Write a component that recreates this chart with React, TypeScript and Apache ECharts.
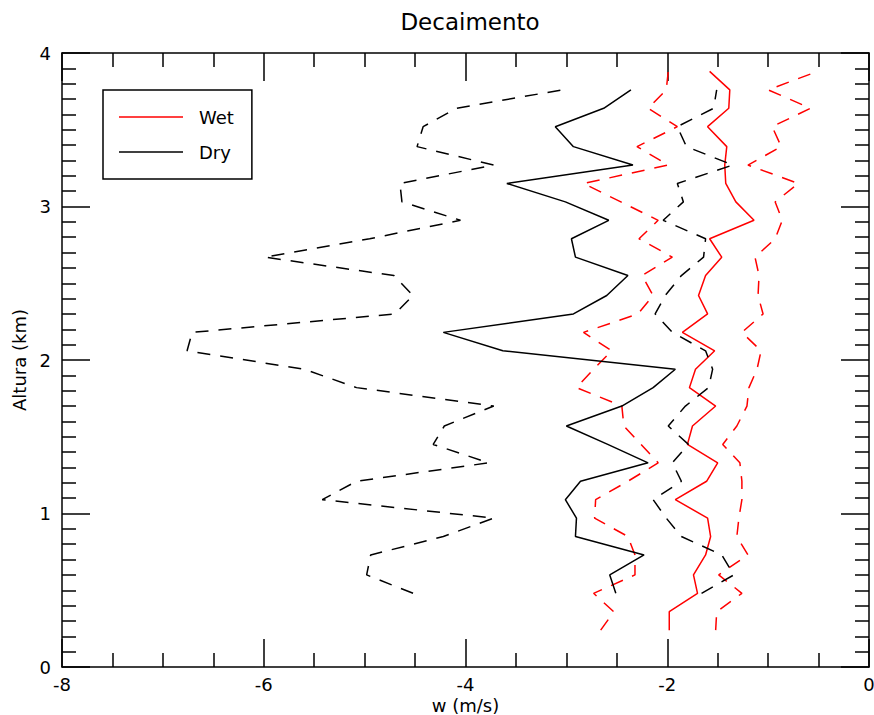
import React, { useEffect, useRef } from "react";
import * as echarts from "echarts";

// Heights (km) of the profile levels
const heightsWet: number[] = [
  0.24, 0.36, 0.48, 0.6, 0.73, 0.85, 0.97, 1.09, 1.21, 1.33, 1.45, 1.57, 1.7, 1.82, 1.94, 2.06,
  2.18, 2.3, 2.42, 2.55, 2.67, 2.79, 2.91, 3.03, 3.15, 3.27, 3.39, 3.52, 3.64, 3.76, 3.88,
];
const heightsDry: number[] = [
  0.48, 0.6, 0.73, 0.85, 0.97, 1.09, 1.21, 1.33, 1.45, 1.57, 1.7, 1.82, 1.94, 2.06,
  2.18, 2.3, 2.42, 2.55, 2.67, 2.79, 2.91, 3.03, 3.15, 3.27, 3.39, 3.52, 3.64, 3.76,
];

// w (m/s), listed from the lowest level upwards
const wetMean: number[] = [
  -1.98, -1.98, -1.7, -1.74, -1.62, -1.57, -1.6, -1.92, -1.61, -1.5, -1.8, -1.75, -1.52, -1.78, -1.72, -1.53,
  -1.85, -1.6, -1.69, -1.62, -1.46, -1.58, -1.14, -1.32, -1.42, -1.43, -1.41, -1.6, -1.39, -1.38, -1.58,
];
const wetLow: number[] = [
  -2.66, -2.53, -2.73, -2.32, -2.32, -2.39, -2.72, -2.71, -2.39, -2.09, -2.26, -2.43, -2.45, -2.9, -2.73, -2.55,
  -2.83, -2.29, -2.14, -2.25, -1.95, -2.28, -2.09, -2.46, -2.83, -1.99, -2.3, -1.9, -2.19, -2.01, -1.99,
];
const wetHigh: number[] = [
  -1.52, -1.51, -1.26, -1.49, -1.2, -1.31, -1.29, -1.26, -1.26, -1.28, -1.45, -1.31, -1.21, -1.19, -1.11, -1.07,
  -1.26, -1.05, -1.1, -1.09, -1.13, -0.93, -0.86, -0.93, -0.7, -1.2, -0.87, -0.96, -0.58, -1.0, -0.51,
];
const dryMean: number[] = [
  -2.51, -2.57, -2.23, -2.91, -2.9, -3.01, -2.86, -2.19, -2.59, -3.0, -2.45, -2.14, -1.92, -3.63,
  -4.22, -2.93, -2.6, -2.39, -2.91, -2.95, -2.58, -3.01, -3.59, -2.34, -2.93, -3.11, -2.63, -2.36,
];
const dryLow: number[] = [
  -4.52, -4.98, -4.94, -4.22, -3.72, -5.42, -5.08, -3.77, -4.32, -4.21, -3.72, -5.08, -5.6, -6.76,
  -6.71, -4.7, -4.52, -4.71, -5.99, -4.95, -4.05, -4.63, -4.65, -3.72, -4.48, -4.42, -4.09, -3.04,
];
const dryHigh: number[] = [
  -1.66, -1.34, -1.46, -1.86, -2.01, -2.14, -1.86, -1.95, -1.79, -1.99, -1.82, -1.59, -1.55, -1.62,
  -1.95, -2.12, -2.02, -1.86, -1.64, -1.62, -2.04, -1.84, -1.9, -1.35, -1.81, -1.9, -1.54, -1.51,
];

const xTicks = { min: -8, max: 0, interval: 2 };
const yTicks = { min: 0, max: 4, interval: 1 };

const FONT = "DejaVu Sans";

function pairs(xs: number[], ys: number[]) {
  return xs.map((x, i) => [x, ys[i]]);
}

export default function App() {
  const ref = useRef<HTMLDivElement | null>(null);

  useEffect(() => {
    if (!ref.current) return;
    const chart = echarts.init(ref.current, null, { renderer: "svg" });

    const axisLine = { show: true, onZero: false, lineStyle: { color: "#000", width: 1.5 } };
    const makeX = (pos: "bottom" | "top", labels: boolean) => ({
      type: "value",
      position: pos,
      min: xTicks.min,
      max: xTicks.max,
      interval: xTicks.interval,
      axisLine,
      axisTick: { show: true, inside: true, length: 28, lineStyle: { color: "#000", width: 1.5 } },
      minorTick: { show: true, splitNumber: 4, length: 14, lineStyle: { color: "#000", width: 1.5 } },
      splitLine: { show: false },
      axisLabel: {
        show: labels,
        color: "#000",
        fontSize: 18,
        lineHeight: 18,
        fontFamily: FONT,
        margin: 8,
      },
      name: labels ? "w (m/s)" : "",
      nameLocation: "middle",
      nameGap: 29,
      nameMoveOverlap: false,
      nameTextStyle: { color: "#000", fontSize: 18, fontFamily: FONT, lineHeight: 18 },
    });
    const makeY = (pos: "left" | "right", labels: boolean) => ({
      type: "value",
      position: pos,
      min: yTicks.min,
      max: yTicks.max,
      interval: yTicks.interval,
      axisLine,
      axisTick: { show: true, inside: true, length: 28, lineStyle: { color: "#000", width: 1.5 } },
      minorTick: { show: true, splitNumber: 10, length: 14, lineStyle: { color: "#000", width: 1.5 } },
      splitLine: { show: false },
      axisLabel: {
        show: labels,
        color: "#000",
        fontSize: 18,
        fontFamily: FONT,
        margin: 11,
      },
      name: labels ? "Altura (km)" : "",
      nameLocation: "middle",
      nameGap: 34,
      nameRotate: 90,
      nameTextStyle: { color: "#000", fontSize: 18, fontFamily: FONT },
    });

    const line = (
      name: string,
      xs: number[],
      ys: number[],
      color: string,
      dashed: boolean
    ) => ({
      name,
      type: "line",
      xAxisIndex: 0,
      yAxisIndex: 0,
      data: pairs(xs, ys),
      symbol: "none",
      showSymbol: false,
      smooth: false,
      lineStyle: {
        color,
        width: 1.5,
        type: dashed ? [13, 10] : "solid",
      },
      itemStyle: { color },
      emphasis: { disabled: true },
    });

    chart.setOption({
      animation: false,
      backgroundColor: "#fff",
      textStyle: { fontFamily: FONT },
      title: {
        text: "Decaimento",
        left: 465,
        textAlign: "center",
        top: 5,
        textStyle: { color: "#000", fontSize: 23, fontWeight: "normal", fontFamily: FONT },
      },
      grid: {
        left: 62,
        right: 5,
        top: 53,
        bottom: 48,
        containLabel: false,
        outerBoundsMode: "none",
      },
      xAxis: [makeX("bottom", true), makeX("top", false)],
      yAxis: [makeY("left", true), makeY("right", false)],
      legend: {
        data: ["Wet", "Dry"],
        orient: "vertical",
        left: 103,
        top: 90,
        icon: "rect",
        itemWidth: 64,
        itemHeight: 1.5,
        itemGap: 17,
        padding: [18, 18, 18, 16],
        borderColor: "#000",
        borderWidth: 1.5,
        selectedMode: false,
        itemStyle: { borderWidth: 0 },
        lineStyle: { width: 0 },
        textStyle: {
          color: "#000",
          fontSize: 18,
          fontFamily: FONT,
          lineHeight: 18,
          padding: [0, 0, 0, 11],
        },
      },
      series: [
        line("Wet", wetMean, heightsWet, "#ff0000", false),
        line("Wet low", wetLow, heightsWet, "#ff0000", true),
        line("Wet high", wetHigh, heightsWet, "#ff0000", true),
        line("Dry", dryMean, heightsDry, "#000000", false),
        line("Dry low", dryLow, heightsDry, "#000000", true),
        line("Dry high", dryHigh, heightsDry, "#000000", true),
      ],
    });

    return () => chart.dispose();
  }, []);

  return (
    <div
      ref={ref}
      style={{ position: "absolute", left: 0, top: 0, width: 874, height: 715, background: "#fff" }}
    />
  );
}
